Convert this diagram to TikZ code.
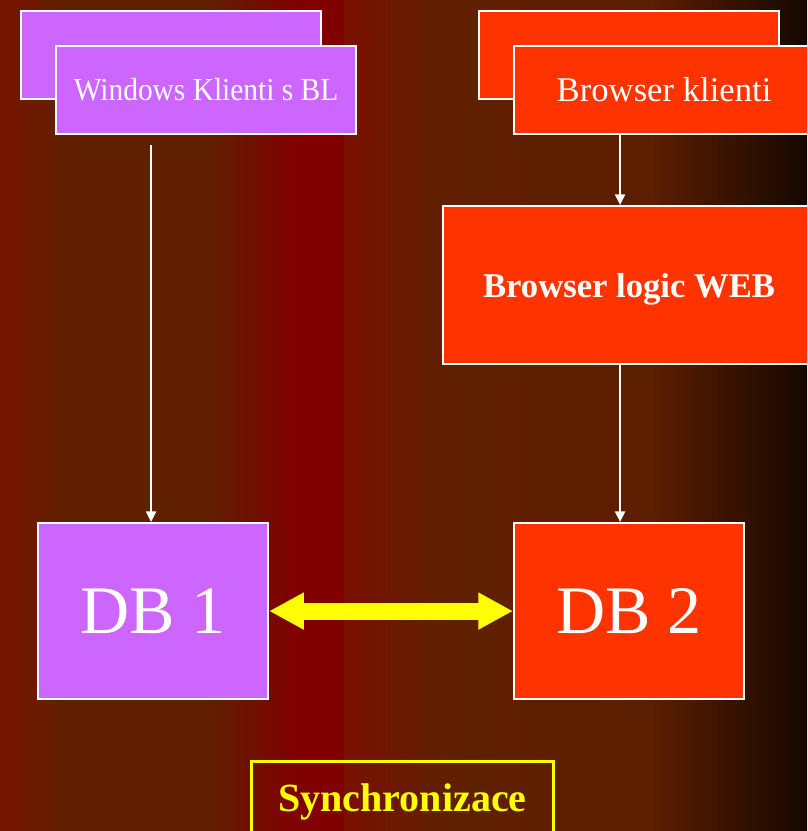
\documentclass[tikz,border=0pt]{standalone}
\usepackage{fontspec}
\setmainfont{Liberation Serif}
\usetikzlibrary{arrows.meta}
\definecolor{purp}{HTML}{CC66FF}
\definecolor{orng}{HTML}{FF3300}
\definecolor{ylw}{HTML}{FFFF00}
\definecolor{bgA}{HTML}{7A1400}
\definecolor{bgB}{HTML}{602000}
\definecolor{bgC}{HTML}{800000}
\definecolor{bgD}{HTML}{7A1000}
\definecolor{bgE}{HTML}{5C1E00}
\definecolor{bgF}{HTML}{160800}
\tikzset{
  box/.style={draw=white, line width=1.6pt, anchor=north west, inner sep=0pt, text=white, align=center},
  pbox/.style={box, fill=purp},
  obox/.style={box, fill=orng},
  smallbox/.style={minimum width=225pt, minimum height=66pt},
  dbbox/.style={minimum width=172.5pt, minimum height=132pt, font=\fontsize{51pt}{56pt}\selectfont},
  wire/.style={draw=white, line width=1.5pt, -{Triangle[width=7.5pt,length=8pt]}},
  syncarrow/.style={draw=ylw, line width=12.75pt, {Triangle[width=26pt,length=26pt]}-{Triangle[width=26pt,length=26pt]}},
  syncbox/.style={draw=ylw, line width=2.25pt, anchor=north west, inner xsep=0pt, inner ysep=0pt,
     minimum width=226.5pt, text height=37.5pt, text depth=42pt, text=ylw,
     font=\fontsize{30pt}{34pt}\selectfont\bfseries}
}
\begin{document}
\begin{tikzpicture}[x=0.75pt,y=-0.75pt]
\useasboundingbox (0,0) rectangle (807,831);
\clip (0,0) rectangle (807,831);
% background bands
\shade[left color=bgA, right color=bgB] (0,0) rectangle (68,831);
\fill[bgB] (67,0) rectangle (207,831);
\shade[left color=bgB, right color=bgC] (206,0) rectangle (297,831);
\fill[bgC] (296,0) rectangle (345,831);
\shade[left color=bgD, right color=bgB] (344,0) rectangle (444,831);
\shade[left color=bgB, right color=bgE] (443,0) rectangle (651,831);
\shade[left color=bgE, right color=bgF] (650,0) rectangle (807,831);

% top-left stacked boxes
\node[pbox, smallbox] (wback) at (20,10) {};
\node[pbox, smallbox, font=\fontsize{24pt}{28pt}\selectfont] (wfront) at (55,45) {\scalebox{0.92}[1]{Windows Klienti s BL}};
% top-right stacked boxes
\node[obox, smallbox] (bback) at (478,10) {};
\node[obox, smallbox, font=\fontsize{26pt}{30pt}\selectfont] (bfront) at (513,45) {Browser klienti};
% browser logic
\node[obox, minimum width=279pt, minimum height=118.5pt, text height=21pt, text depth=3pt,
      font=\fontsize{26pt}{30pt}\selectfont\bfseries] (blogic) at (442,205) {Browser logic WEB};
% databases
\node[pbox, dbbox] (db1) at (37,522) {DB 1};
\node[obox, dbbox] (db2) at (513,522) {DB 2};
% sync label
\node[syncbox] (sync) at (250,760) {Synchronizace};

% connectors
\draw[wire] ([yshift=-7.5pt,xshift=-1.5pt]wfront.south -| db1.north) -- ([xshift=-1.5pt]db1.north);
\draw[wire] ([xshift=-6.75pt]bfront.south -| blogic.north) -- ([xshift=-6.75pt]blogic.north);
\draw[wire] ([xshift=-6.75pt]blogic.south) -- ([xshift=-6.75pt]db2.north);
\draw[syncarrow] (db1) -- (db2);
\end{tikzpicture}
\end{document}
